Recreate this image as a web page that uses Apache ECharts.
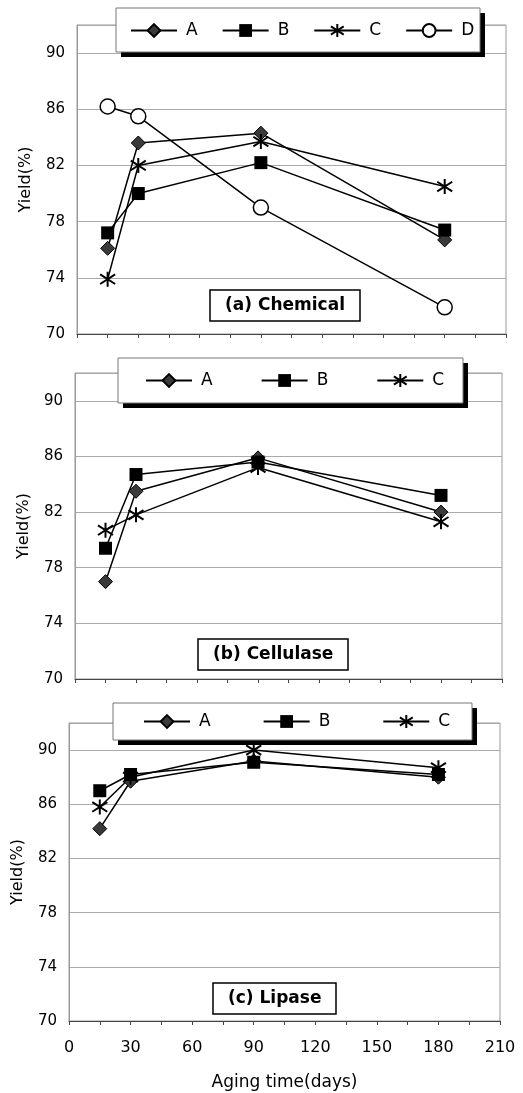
<!DOCTYPE html>
<html>
<head>
<meta charset="utf-8">
<script src="https://cdn.jsdelivr.net/npm/echarts@6/dist/echarts.min.js"></script>
<style>
  html, body { margin: 0; padding: 0; background: #fff; }
  #chart { width: 523px; height: 1093px; }
</style>
</head>
<body>
<div id="chart"></div>
<script>
// aging time (days)
const days = [15, 30, 90, 180]

// (a) Chemical
const chemA = [76.1, 83.6, 84.3, 76.7]
const chemB = [77.2, 80.0, 82.2, 77.4]
const chemC = [73.9, 82.0, 83.7, 80.5]
const chemD = [86.2, 85.5, 79.0, 71.9]

// (b) Cellulase
const cellA = [77.0, 83.5, 85.9, 82.0]
const cellB = [79.4, 84.7, 85.6, 83.2]
const cellC = [80.7, 81.8, 85.2, 81.3]

// (c) Lipase
const lipA = [84.2, 87.7, 89.2, 88.0]
const lipB = [87.0, 88.2, 89.1, 88.2]
const lipC = [85.8, 88.0, 90.0, 88.7]

const panelTitles = ['(a) Chemical', '(b) Cellulase', '(c) Lipase']
const yTicks = [70, 74, 78, 82, 86, 90]

const font = 'DejaVu Sans, Verdana, sans-serif'
const starPath = 'path://M5 0 L5 10 M1.2 1.8 L8.8 8.2 M8.8 1.8 L1.2 8.2'

const markers = {
  A: { symbol: 'diamond', symbolSize: 14, itemStyle: { color: '#3a3a3a', borderColor: '#000', borderWidth: 1 } },
  B: { symbol: 'rect', symbolSize: 13, itemStyle: { color: '#000' } },
  C: { symbol: starPath, symbolSize: 15, itemStyle: { color: '#000', borderColor: '#000', borderWidth: 2 } },
  D: { symbol: 'circle', symbolSize: 15, itemStyle: { color: '#fff', borderColor: '#000', borderWidth: 1.5 } }
}

function pairs(values) {
  return days.map((d, i) => [d, values[i]])
}

function makeSeries(name, values, idx) {
  return {
    name,
    type: 'line',
    xAxisIndex: idx,
    yAxisIndex: idx,
    data: pairs(values),
    lineStyle: { color: '#000', width: 1.5 },
    symbol: markers[name].symbol,
    symbolSize: markers[name].symbolSize,
    itemStyle: markers[name].itemStyle,
    z: name === 'D' ? 3 : 4,
    animation: false
  }
}

const grids = [
  { left: 77, top: 25, width: 429, height: 309 },
  { left: 75, top: 373, width: 427, height: 306 },
  { left: 69, top: 723, width: 431, height: 298 }
]

// legend frames (white box + black drop shadow)
const legendBoxes = [
  { x: 116, y: 8, w: 364, h: 44 },
  { x: 118, y: 358, w: 345, h: 45 },
  { x: 113, y: 703, w: 359, h: 37 }
]

const titleBoxes = [
  { left: 210, top: 290 },
  { left: 198, top: 639 },
  { left: 213, top: 983 }
]

function xAxisFor(idx) {
  const last = idx === 2
  return {
    type: 'value',
    gridIndex: idx,
    min: 0,
    max: 210,
    interval: 15,
    axisLine: { show: true, lineStyle: { color: '#444', width: 1 } },
    axisTick: { show: true, length: 4, lineStyle: { color: '#444' } },
    splitLine: { show: false },
    axisLabel: {
      show: last,
      margin: 19,
      color: '#000',
      fontSize: 16,
      fontFamily: font,
      formatter: v => (v % 30 === 0 ? String(v) : '')
    },
    name: last ? 'Aging time(days)' : '',
    nameLocation: 'middle',
    nameGap: 53,
    nameTextStyle: { color: '#000', fontSize: 17, fontFamily: font }
  }
}

function yAxisFor(idx) {
  return {
    type: 'value',
    gridIndex: idx,
    min: 70,
    max: 92,
    interval: 4,
    axisLine: { show: true, lineStyle: { color: '#999' } },
    axisTick: { show: false },
    splitLine: { show: true, lineStyle: { color: '#aaa', width: 1 } },
    axisLabel: {
      margin: 12,
      color: '#000',
      fontSize: 15,
      fontFamily: font,
      formatter: v => (yTicks.includes(v) ? String(v) : '')
    },
    name: 'Yield(%)',
    nameLocation: 'middle',
    nameRotate: 90,
    nameGap: 43,
    nameTextStyle: { color: '#000', fontSize: 16, fontFamily: font }
  }
}

function legendFor(names, left, top, gap) {
  return {
    data: names,
    left,
    top,
    orient: 'horizontal',
    itemWidth: 46,
    itemHeight: 16,
    itemGap: gap,
    padding: 0,
    z: 6,
    textStyle: { color: '#000', fontSize: 17, fontFamily: font, padding: [0, 0, 0, 4] },
    selectedMode: false
  }
}

function legendFrames() {
  const out = []
  legendBoxes.forEach(b => {
    out.push({
      type: 'rect', z: 5, silent: true,
      shape: { x: b.x + 5, y: b.y + 5, width: b.w, height: b.h },
      style: { fill: '#000' }
    })
    out.push({
      type: 'rect', z: 5, silent: true,
      shape: { x: b.x, y: b.y, width: b.w, height: b.h },
      style: { fill: '#fff', stroke: '#777', lineWidth: 1 }
    })
  })
  return out
}

const chart = echarts.init(document.getElementById('chart'))

chart.setOption({
  backgroundColor: '#fff',
  animation: false,
  title: panelTitles.map((t, i) => ({
    text: t,
    left: titleBoxes[i].left,
    top: titleBoxes[i].top,
    padding: [7, 15, 7, 15],
    borderColor: '#000',
    borderWidth: 1.5,
    backgroundColor: '#fff',
    textStyle: { color: '#000', fontSize: 17, fontWeight: 'bold', fontFamily: font }
  })),
  legend: [
    legendFor(['A', 'B', 'C', 'D'], 130, 22, 24),
    legendFor(['A', 'B', 'C'], 145, 372, 48),
    legendFor(['A', 'B', 'C'], 143, 713, 52)
  ],
  graphic: legendFrames(),
  grid: grids.map(g => ({ ...g, show: true, borderColor: '#999', borderWidth: 1, backgroundColor: 'transparent' })),
  xAxis: [xAxisFor(0), xAxisFor(1), xAxisFor(2)],
  yAxis: [yAxisFor(0), yAxisFor(1), yAxisFor(2)],
  series: [
    makeSeries('A', chemA, 0),
    makeSeries('B', chemB, 0),
    makeSeries('C', chemC, 0),
    makeSeries('D', chemD, 0),
    makeSeries('A', cellA, 1),
    makeSeries('B', cellB, 1),
    makeSeries('C', cellC, 1),
    makeSeries('A', lipA, 2),
    makeSeries('B', lipB, 2),
    makeSeries('C', lipC, 2)
  ]
})

window.addEventListener('resize', () => chart.resize())
</script>
</body>
</html>
